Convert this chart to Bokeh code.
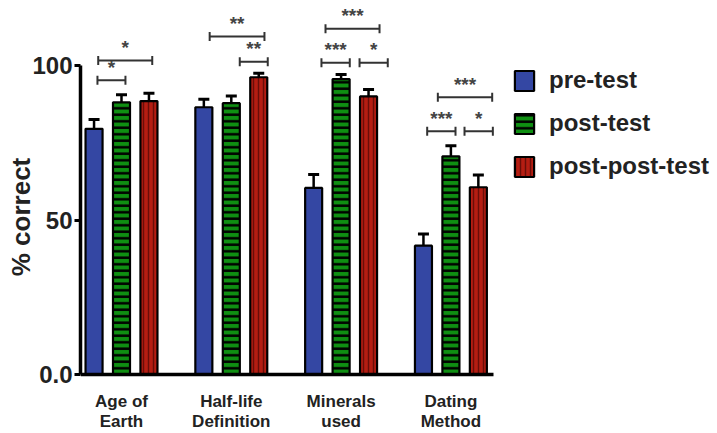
from bokeh.plotting import figure
from bokeh.models import (Range1d, FixedTicker, Whisker, TeeHead, ColumnDataSource,
                          Legend, LegendItem)
from bokeh.embed import file_html
from bokeh.resources import INLINE
from bokeh.core.properties import value

# ---------------- data ----------------
categories = ["Age of\nEarth", "Half-life\nDefinition", "Minerals\nused", "Dating\nMethod"]
series_names = ["pre-test", "post-test", "post-post-test"]

pre_test = [79.5, 86.5, 60.4, 41.7]
pre_err = [3.0, 2.6, 4.3, 3.8]
post_test = [88.1, 87.8, 95.6, 70.6]
post_err = [2.4, 2.3, 1.5, 3.4]
post_post_test = [88.5, 96.2, 90.0, 60.6]
post_post_err = [2.5, 1.3, 2.2, 4.0]

y_ticks = [0, 50, 100]
y_tick_labels = {0: "0.0", 50: "50", 100: "100"}

# significance brackets (x in category units, y in % correct)
sig_x0 = [-0.219, -0.212, 0.803, 1.077, 1.858, 1.821, 2.168, 2.881, 2.784, 3.124]
sig_x1 = [0.036, 0.280, 1.302, 1.332, 2.350, 2.079, 2.425, 3.376, 3.042, 3.382]
sig_y = [95.2, 101.6, 109.4, 101.2, 111.9, 100.9, 100.9, 89.7, 78.7, 78.7]
sig_label = ["*", "*", "**", "**", "***", "***", "*", "***", "***", "*"]

# ---------------- styles ----------------
FONT = "Liberation Sans"
colors = ["#3447a3", "#0f8f12", "#b51d12"]
hatch_patterns = [" ", "horizontal_line", "vertical_line"]
hatch_colors = ["black", "black", "#6a0d08"]
hatch_scales = [6, 6.5, 5]
hatch_weights = [1, 2.5, 1.5]
offsets = [-0.25, 0.0, 0.25]
bar_w = 0.155

p = figure(width=717, height=433, output_backend="svg", toolbar_location=None,
           x_range=Range1d(-0.3734, 5.428), y_range=Range1d(-19.09, 121.04),
           min_border_left=80, min_border_right=0, min_border_top=0, min_border_bottom=0)
p.outline_line_color = None
p.xgrid.grid_line_color = None
p.ygrid.grid_line_color = None

values = [pre_test, post_test, post_post_test]
errs = [pre_err, post_err, post_post_err]
renderers = []
for k in range(3):
    xs = [i + offsets[k] for i in range(len(categories))]
    src = ColumnDataSource(dict(x=xs, top=values[k],
                                up=[v + e for v, e in zip(values[k], errs[k])]))
    r = p.vbar(x="x", top="top", bottom=0, width=bar_w, source=src, fill_color=colors[k],
               line_color="black", line_width=2.2,
               hatch_pattern=hatch_patterns[k], hatch_color=hatch_colors[k],
               hatch_scale=hatch_scales[k], hatch_weight=hatch_weights[k])
    renderers.append(r)
    wk = Whisker(source=src, base="x", lower="top", upper="up", dimension="height",
                 line_color="black", line_width=2.5, lower_head=None,
                 upper_head=TeeHead(size=11, line_width=3, line_color="black"))
    p.add_layout(wk)

# significance brackets
sig_src = ColumnDataSource(dict(x0=sig_x0, x1=sig_x1, y=sig_y,
                                xm=[(a + b) / 2 for a, b in zip(sig_x0, sig_x1)],
                                lab=sig_label))
br = Whisker(source=sig_src, base="y", lower="x0", upper="x1", dimension="width",
             line_color="#333333", line_width=2,
             lower_head=TeeHead(size=9, line_width=2, line_color="#333333"),
             upper_head=TeeHead(size=9, line_width=2, line_color="#333333"))
p.add_layout(br)
p.text(x="xm", y="y", text="lab", source=sig_src, text_align="center",
       text_baseline="alphabetic", y_offset=-13, text_font=value(FONT),
       text_font_style="bold", text_font_size="19px", text_color="#444444")

# axes
p.yaxis.ticker = FixedTicker(ticks=y_ticks)
p.yaxis.major_label_overrides = y_tick_labels
p.yaxis.bounds = (0, 100)
p.yaxis.axis_line_width = 3.5
p.yaxis.major_tick_line_width = 3
p.yaxis.major_tick_out = 6
p.yaxis.major_tick_in = 0
p.yaxis.minor_tick_line_color = None
p.yaxis.major_label_standoff = 2
p.yaxis.major_label_text_font = FONT
p.yaxis.major_label_text_font_style = "bold"
p.yaxis.major_label_text_font_size = "24px"
p.yaxis.major_label_text_color = "#222222"
p.yaxis.axis_label = "% correct"
p.yaxis.axis_label_text_font = FONT
p.yaxis.axis_label_text_font_style = "bold"
p.yaxis.axis_label_text_font_size = "26px"
p.yaxis.axis_label_text_color = "#222222"
p.yaxis.axis_label_standoff = -7

p.xaxis.fixed_location = 0
p.xaxis.ticker = FixedTicker(ticks=list(range(len(categories))))
p.xaxis.major_label_overrides = {i: c for i, c in enumerate(categories)}
p.xaxis.bounds = (-0.3734, 3.388)
p.xaxis.axis_line_width = 3.5
p.xaxis.major_tick_line_color = None
p.xaxis.major_tick_out = 0
p.xaxis.major_tick_in = 0
p.xaxis.minor_tick_line_color = None
p.xaxis.major_label_standoff = 17
p.xaxis.major_label_text_font = FONT
p.xaxis.major_label_text_font_style = "bold"
p.xaxis.major_label_text_font_size = "17px"
p.xaxis.major_label_text_line_height = 1.1
p.xaxis.major_label_text_color = "#222222"

legend = Legend(items=[LegendItem(label=n, renderers=[r]) for n, r in zip(series_names, renderers)],
                location=(432, 253), orientation="vertical", glyph_width=24, glyph_height=25,
                label_height=25, label_standoff=13, spacing=15, padding=0, margin=0,
                border_line_color=None, background_fill_alpha=0,
                label_text_font=FONT, label_text_font_style="bold",
                label_text_font_size="24px", label_text_color="#222222",
                label_text_baseline="middle")
p.add_layout(legend)

open("out.html", "w").write(file_html(p, INLINE))
